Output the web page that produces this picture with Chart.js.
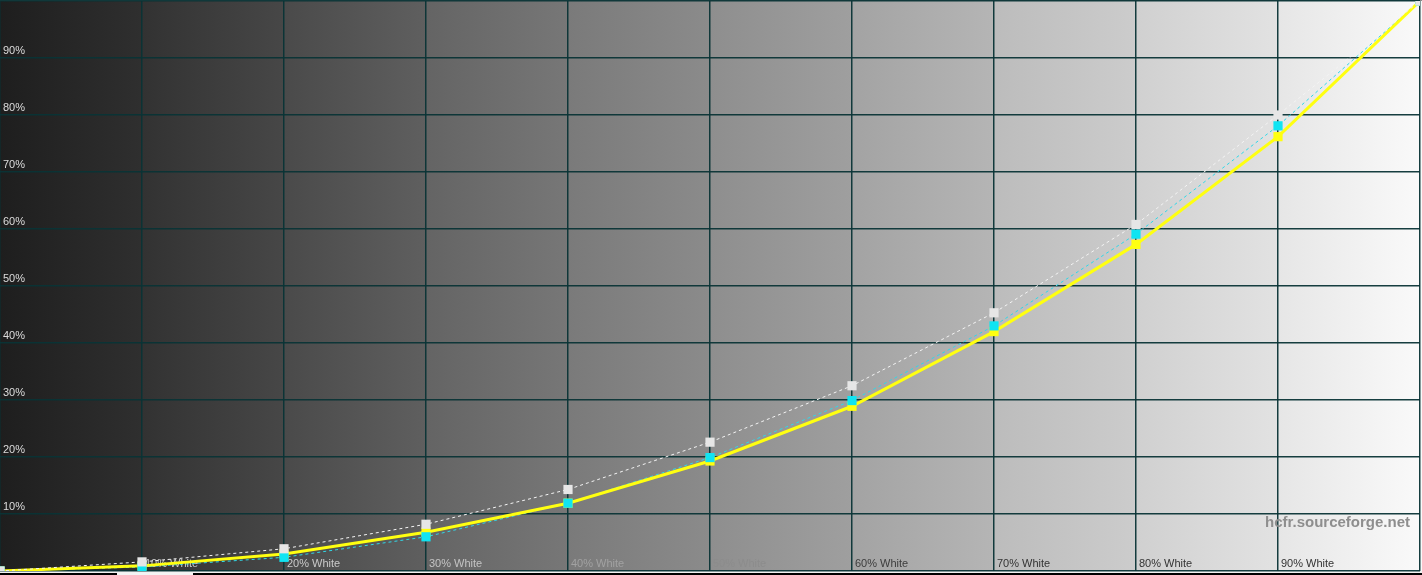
<!DOCTYPE html>
<html><head><meta charset="utf-8">
<script src="https://cdn.jsdelivr.net/npm/chart.js@4.4.0/dist/chart.umd.min.js"></script>
<style>html,body{margin:0;padding:0;background:#000;overflow:hidden}canvas{display:block}</style>
</head><body>
<canvas id="c" width="1422" height="575"></canvas>
<script>
// ---- data ----
const levels = [0, 10, 20, 30, 40, 50, 60, 70, 80, 90, 100];
const measured = [0, 0.9, 3.0, 6.8, 11.9, 19.3, 28.9, 42.0, 57.3, 76.2, 100];
const target = [0, 0.7, 2.4, 6.0, 11.9, 19.9, 29.9, 43.0, 59.1, 78.1, 100];
const reference = [0, 1.6, 3.9, 8.2, 14.3, 22.6, 32.5, 45.3, 60.8, 80.0, 100];
const yTickValues = [10, 20, 30, 40, 50, 60, 70, 80, 90];
const yTickLabels = ['10%', '20%', '30%', '40%', '50%', '60%', '70%', '80%', '90%'];
const xTickLabels = ['10% White', '20% White', '30% White', '40% White', '50% White', '60% White', '70% White', '80% White', '90% White'];
const watermark = 'hcfr.sourceforge.net';

// ---- styles ----
const xLabelColors = ['#cfcfcf', '#cacaca', '#c4c4c4', '#a2a2a2', '#8c8c8c', '#3c3c3c', '#333333', '#333333', '#333333'];
const columnShades = [[30, 47], [50, 71], [74, 95], [100, 119], [122, 139], [142, 159], [163, 181], [188, 204], [208, 226], [230, 250]];

const pts = arr => levels.map((x, i) => ({ x, y: arr[i] }));

const bgPlugin = {
  id: 'bg',
  beforeDraw(chart) {
    const { ctx, chartArea: a, scales: { x }, width, height } = chart;
    ctx.save();
    for (let i = 0; i < levels.length - 1; i++) {
      const x0 = x.getPixelForValue(levels[i]);
      let x1 = x.getPixelForValue(levels[i + 1]);
      if (i === levels.length - 2) x1 = width;
      const g = ctx.createLinearGradient(x0, 0, x1, 0);
      const s = columnShades[i];
      g.addColorStop(0, `rgb(${s[0]},${s[0]},${s[0]})`);
      g.addColorStop(1, `rgb(${s[1]},${s[1]},${s[1]})`);
      ctx.fillStyle = g;
      ctx.fillRect(x0, 0, x1 - x0 + 0.5, a.bottom);
    }
    ctx.fillStyle = '#8a8a8a';
    ctx.fillRect(0, 0, width, 1);
    ctx.fillStyle = '#f2f2f2';
    ctx.fillRect(0, a.bottom, width, 2);
    ctx.fillStyle = '#000';
    ctx.fillRect(0, a.bottom + 2, width, height - a.bottom - 2);
    ctx.fillStyle = '#f4f4f4';
    ctx.fillRect(117, a.bottom + 2, 76, height - a.bottom - 2);
    ctx.restore();
  },
  beforeDatasetsDraw(chart) {
    const { ctx, chartArea: a, scales: { x, y } } = chart;
    ctx.save();
    ctx.font = '11px "Liberation Sans", Arial, sans-serif';
    ctx.textBaseline = 'middle';
    ctx.textAlign = 'left';
    ctx.fillStyle = '#dcdcdc';
    yTickValues.forEach((v, i) => {
      ctx.fillText(yTickLabels[i], 3, y.getPixelForValue(v) - 7);
    });
    yTickValues.forEach((v, i) => {
      ctx.fillStyle = xLabelColors[i];
      ctx.fillText(xTickLabels[i], x.getPixelForValue(v) + 3, a.bottom - 7);
    });
    ctx.font = 'bold 15px "Liberation Sans", Arial, sans-serif';
    ctx.textAlign = 'right';
    ctx.fillStyle = '#8e8e8e';
    ctx.fillText(watermark, a.right - 10, y.getPixelForValue(8.5));
    ctx.restore();
  }
};

const gridColor = 'rgba(10,52,54,0.95)';
new Chart(document.getElementById('c'), {
  type: 'line',
  data: {
    datasets: [
      { label: 'reference', data: pts(reference), order: 1, borderColor: '#f4f4f4', borderWidth: 1, borderDash: [3, 3],
        pointStyle: 'rect', pointRadius: 6.5, pointBackgroundColor: '#e6e6e6', pointBorderWidth: 0 },
      { label: 'target points', data: pts(target), order: 2, showLine: false,
        pointStyle: 'rect', pointRadius: 6.5, pointBackgroundColor: '#10e4f2', pointBorderWidth: 0 },
      { label: 'measured', data: pts(measured), order: 3, borderColor: '#ffff10', borderWidth: 3,
        pointStyle: 'rect', pointRadius: 6.5, pointBackgroundColor: '#ffff10', pointBorderWidth: 0 },
      { label: 'target', data: pts(target), order: 4, borderColor: '#30d8e8', borderWidth: 1, borderDash: [3, 3],
        pointRadius: 0 }
    ]
  },
  options: {
    responsive: false,
    animation: false,
    devicePixelRatio: 1,
    layout: { autoPadding: false, padding: { left: 0, right: 2, top: 1, bottom: 4 } },
    plugins: { legend: { display: false }, tooltip: { enabled: false } },
    elements: { line: { tension: 0 } },
    scales: {
      x: { type: 'linear', min: 0, max: 100,
        afterBuildTicks: s => { s.ticks = levels.map(v => ({ value: v })); },
        ticks: { display: false }, border: { display: false },
        grid: { color: gridColor, lineWidth: 1.5, drawTicks: false } },
      y: { type: 'linear', min: 0, max: 100,
        afterBuildTicks: s => { s.ticks = levels.map(v => ({ value: v })); },
        ticks: { display: false }, border: { display: false },
        grid: { color: gridColor, lineWidth: 1.5, drawTicks: false } }
    }
  },
  plugins: [bgPlugin]
});
</script>
</body></html>
